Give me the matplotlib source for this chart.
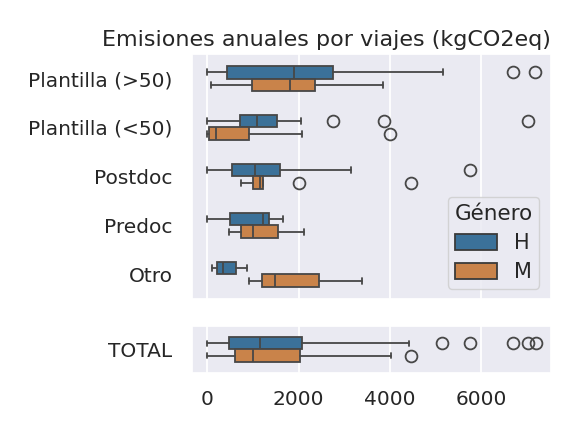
import matplotlib
matplotlib.use("Agg")
import matplotlib.pyplot as plt
from matplotlib.patches import Patch
import seaborn as sns

sns.set_theme(style="darkgrid")
plt.rcParams['font.family'] = ['DejaVu Sans']

categories = ["Plantilla (>50)", "Plantilla (<50)", "Postdoc", "Predoc", "Otro"]
genders = ["H", "M"]
colors = {"H": "#3b7199", "M": "#c9834a"}
line_color = "#474747"

# Box summary per category: (whisker low, Q1, median, Q3, whisker high, outliers)
stats_H = [
    (0, 440, 1900, 2760, 5160, [6700, 7180]),
    (0, 710, 1085, 1535, 2050, [2760, 3880, 7020]),
    (0, 540, 1050, 1600, 3140, [5760]),
    (0, 500, 1215, 1345, 1660, []),
    (95, 220, 350, 620, 880, []),
]
stats_M = [
    (90, 975, 1820, 2360, 3850, []),
    (0, 30, 200, 915, 2065, [4010]),
    (735, 1000, 1145, 1215, 1215, [2010, 4470]),
    (475, 735, 1010, 1555, 2110, []),
    (910, 1200, 1490, 2440, 3400, []),
]
total_H = (0, 475, 1145, 2065, 4430, [5145, 5760, 6700, 7020, 7200])
total_M = (0, 600, 1010, 2040, 4020, [4470])


def to_bxp(s):
    lo, q1, med, q3, hi, fl = s
    return dict(whislo=lo, q1=q1, med=med, q3=q3, whishi=hi, fliers=fl)


def draw_boxes(ax, stats, gender, positions, width=0.26):
    ax.bxp([to_bxp(s) for s in stats], positions=positions, widths=width,
           vert=False, patch_artist=True, manage_ticks=False,
           showcaps=True,
           boxprops=dict(facecolor=colors[gender], edgecolor=line_color, linewidth=1.3),
           medianprops=dict(color=line_color, linewidth=1.3),
           whiskerprops=dict(color=line_color, linewidth=1.3),
           capprops=dict(color=line_color, linewidth=1.3),
           capwidths=0.11,
           flierprops=dict(marker="o", markersize=8.5, markerfacecolor="none",
                           markeredgecolor=line_color, markeredgewidth=1.3))


fig = plt.figure(figsize=(5.71, 4.30), dpi=100)
ax1 = fig.add_axes([0.3363, 0.3047, 0.6287, 0.5697])
ax2 = fig.add_axes([0.3363, 0.1326, 0.6287, 0.1093], sharex=ax1)

off = 0.13
idx = list(range(len(categories)))
draw_boxes(ax1, stats_H, "H", [i - off for i in idx])
draw_boxes(ax1, stats_M, "M", [i + off for i in idx])
draw_boxes(ax2, [total_H], "H", [-off])
draw_boxes(ax2, [total_M], "M", [off])

ax1.set_yticks(idx)
ax1.set_yticklabels(categories)
ax1.set_ylim(len(categories) - 0.5, -0.5)
ax2.set_yticks([0])
ax2.set_yticklabels(["TOTAL"])
ax2.set_ylim(0.5, -0.5)

for ax in (ax1, ax2):
    ax.grid(False, axis="y")
    ax.grid(True, axis="x", color="white", linewidth=1.3)
    ax.tick_params(axis="both", labelsize=14.5)
    ax.tick_params(axis="y", pad=8)
    ax.tick_params(axis="x", pad=6)

ax1.set_xlim(-335, 7535)
ax1.set_xticks([0, 2000, 4000, 6000])
ax1.tick_params(axis="x", labelbottom=False)
ax2.set_xticks([0, 2000, 4000, 6000])

ax1.set_title("Emisiones anuales por viajes (kgCO2eq)", fontsize=16, loc="right", pad=6)

handles = [Patch(facecolor=colors[g], edgecolor="#3a3a3a", linewidth=1.3, label=g)
           for g in genders]
ax1.legend(handles=handles, title="Género", loc="lower right",
           fontsize=15, title_fontsize=15.5, bbox_to_anchor=(0.995, 0.0),
           handlelength=2.0, handleheight=0.8, borderpad=0.3, labelspacing=0.45)

fig.savefig("out.png", dpi=100)
